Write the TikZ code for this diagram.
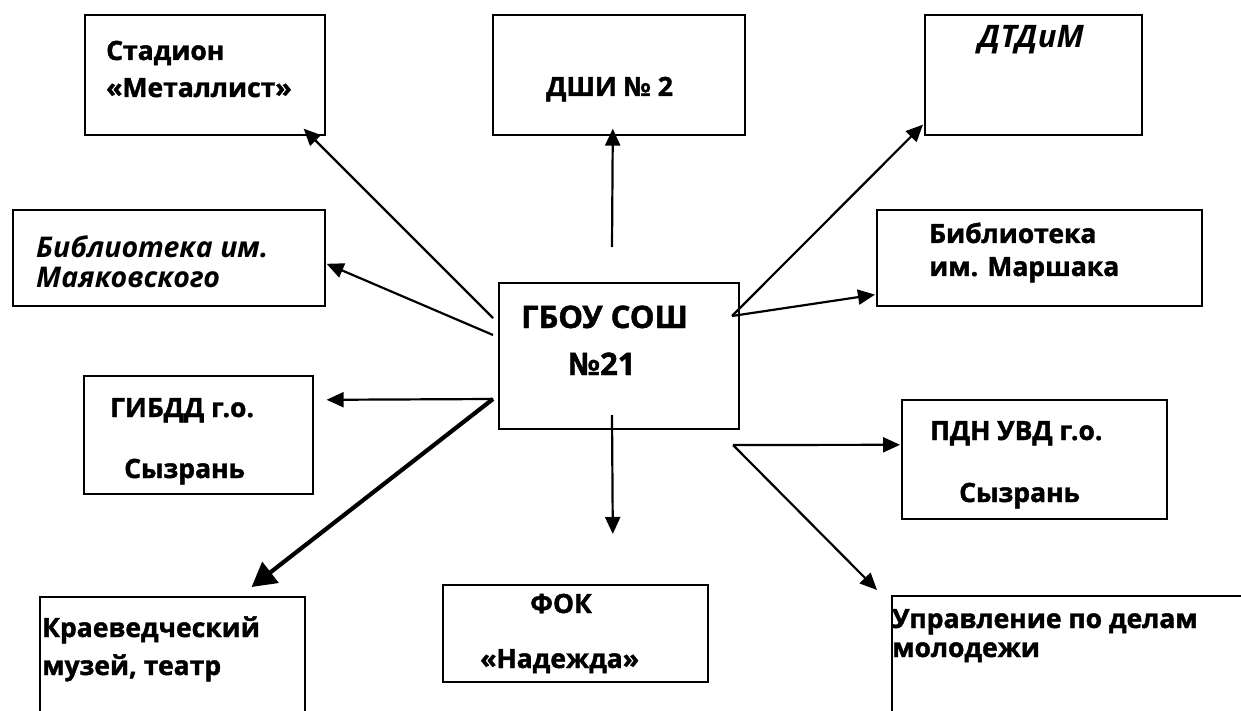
\documentclass[tikz,border=0pt]{standalone}
\usepackage{fontspec}
\setmainfont{Open Sans}[BoldFeatures={FakeBold=1.5}]
\usetikzlibrary{arrows.meta,calc}
\begin{document}
\begin{tikzpicture}[x=1pt,y=-1pt,
  box/.style={draw=black,line width=1.6pt,rectangle,inner sep=0pt,anchor=north west},
  lbl/.style={anchor=base west,inner sep=0pt,font=\fontsize{26.5}{30}\selectfont\bfseries},
  ilbl/.style={anchor=base west,inner sep=0pt,font=\fontsize{28.5}{30}\selectfont\bfseries\itshape},
  big/.style={anchor=base west,inner sep=0pt,font=\fontsize{31}{36}\selectfont\bfseries},
  conn/.style={line width=2.2pt,-{Triangle[length=17pt,width=15pt]}},
  thickconn/.style={line width=4.2pt,-{Triangle[length=24pt,width=26pt]}}]
\clip (0,0) rectangle (1241,711);
\fill[white] (0,0) rectangle (1241,711);
% boxes
\node[box,minimum width=240pt,minimum height=120pt] (stad) at (84,14) {};
\node[box,minimum width=252pt,minimum height=120pt] (dshi) at (492,14) {};
\node[box,minimum width=217pt,minimum height=120pt] (dtdim) at (924,14) {};
\node[box,minimum width=312pt,minimum height=96pt] (mayak) at (12,209) {};
\node[box,minimum width=325pt,minimum height=96pt] (marsh) at (876,209) {};
\node[box,minimum width=240pt,minimum height=146pt] (school) at (498,282) {};
\node[box,minimum width=229pt,minimum height=118pt] (gibdd) at (83,375) {};
\node[box,minimum width=265pt,minimum height=119pt] (pdn) at (901,399) {};
\node[box,minimum width=265pt,minimum height=150pt] (kraev) at (39,596) {};
\node[box,minimum width=265pt,minimum height=97pt] (fok) at (442,584) {};
\node[box,minimum width=370pt,minimum height=150pt] (upr) at (891,595) {};
% texts
\node[lbl] (t1a) at (106,60) {Стадион};
\node[lbl] (t1b) at (106,97) {«Металлист»};
\node[lbl] (t2) at (546,96) {ДШИ № 2};
\node[ilbl,font=\fontsize{31}{34}\selectfont\bfseries\itshape] (t3) at (978,48) {ДТДиМ};
\node[ilbl] (t4a) at (36,258) {Библиотека им.};
\node[ilbl] (t4b) at (36,287) {Маяковского};
\node[lbl] (t5a) at (929,243) {Библиотека};
\node[lbl] (t5b) at (929,276) {им. Маршака};
\node[big] (t6a) at (521,328) {ГБОУ СОШ};
\node[big] (t6b) at (568,375) {№21};
\node[lbl] (t7a) at (110,417) {ГИБДД г.о.};
\node[lbl] (t7b) at (124,478) {Сызрань};
\node[lbl] (t8a) at (930,440) {ПДН УВД г.о.};
\node[lbl] (t8b) at (959,502) {Сызрань};
\node[lbl] (t9a) at (42,637) {Краеведческий};
\node[lbl] (t9b) at (42,675) {музей, театр};
\node[lbl] (t10a) at (530,613) {ФОК};
\node[lbl] (t10b) at (480,668) {«Надежда»};
\node[lbl] (t11a) at (892,628) {Управление по делам};
\node[lbl] (t11b) at (892,657) {молодежи};
% connector start points
\coordinate (sA) at (493,318);
\coordinate (sB) at (493,335);
\coordinate (sC) at (612,247);
\coordinate (sD) at (732,316);
\coordinate (sE) at (493,399);
\coordinate (sF) at (612,415);
\coordinate (sG) at (733,445);
% connectors
\draw[conn] (sA) -- ($(stad.south east)+(-22,-7)$);
\draw[conn] (sB) -- ($(mayak.east)+(1,6)$);
\draw[conn] (sC) -- ($(dshi.south)+(-6,-7)$);
\draw[conn] (sD) -- ($(dtdim.south west)+(-1,-11)$);
\draw[conn] (sD) -- ($(marsh.south west)+(-1,-12)$);
\draw[conn] (sE) -- ($(gibdd.east)+(13,-35)$);
\draw[thickconn] (sE) -- ($(kraev.north east)+(-54,-9)$);
\draw[conn] (sF) -- ($(fok.north)+(37.5,-50)$);
\draw[conn] (sG) -- ($(pdn.west)+(-1,-14.5)$);
\draw[conn] (sG) -- ($(upr.north west)+(-14,-5)$);
\end{tikzpicture}
\end{document}
